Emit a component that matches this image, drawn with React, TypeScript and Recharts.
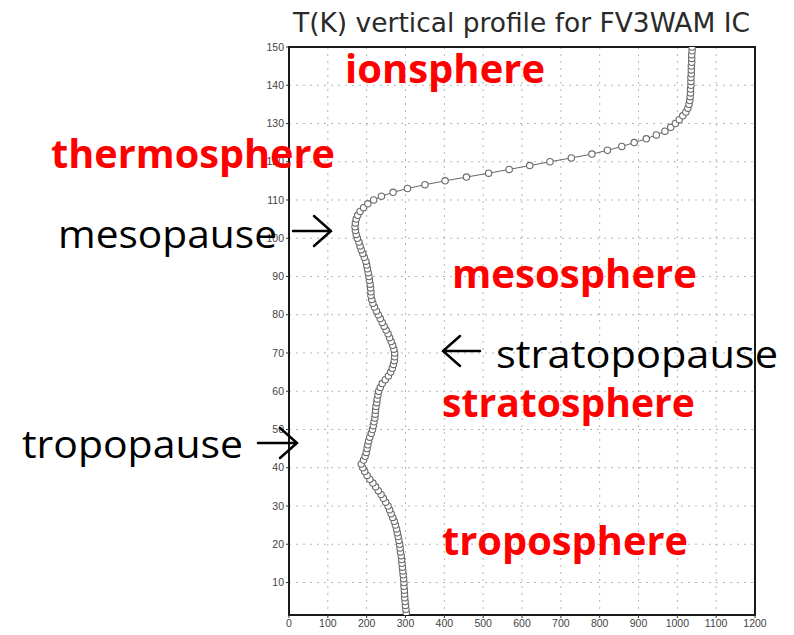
import { ScatterChart, Scatter, XAxis, YAxis, CartesianGrid, ReferenceArea } from 'recharts';

// model levels (km) and temperature (K)
const heightKm = [
  2, 3, 4, 5, 6, 7, 8, 9, 10, 11, 12, 13, 14, 15, 16, 17, 18, 19, 20,
  21, 22, 23, 24, 25, 26, 27, 28, 29, 30, 31, 32, 33, 34, 35, 36, 37, 38, 39, 40,
  41, 42, 43, 44, 45, 46, 47, 48, 49, 50, 51, 52, 53, 54, 55, 56, 57, 58, 59, 60,
  61, 62, 63, 64, 65, 66, 67, 68, 69, 70, 71, 72, 73, 74, 75, 76, 77, 78, 79, 80,
  81, 82, 83, 84, 85, 86, 87, 88, 89, 90, 91, 92, 93, 94, 95, 96, 97, 98, 99, 100,
  101, 102, 103, 104, 105, 106, 107, 108, 109, 110, 111, 112, 113, 114, 115, 116, 117, 118, 119, 120,
  121, 122, 123, 124, 125, 126, 127, 128, 129, 130, 131, 132, 133, 134, 135, 136, 137, 138, 139, 140,
  141, 142, 143, 144, 145, 146, 147, 148, 149, 150,
];
const tempK = [
  302, 301, 300, 299, 298, 297.5, 297, 296, 296, 295, 294, 293, 292, 291, 290, 289, 287, 286, 285,
  283, 281, 279, 277, 274, 271, 267, 263, 259, 255, 249, 243, 237, 230, 223, 216, 208, 201, 195, 190,
  186, 192, 196, 199, 201, 203, 205, 208, 212, 215, 217, 219, 221, 222, 223, 224, 226, 227, 229, 231,
  235, 240, 248, 256, 262, 266, 269, 271, 272, 272, 270, 267, 263, 259, 255, 250, 245, 240, 235, 230,
  225, 220, 216, 213, 211, 211, 210, 209, 207, 206, 204, 202, 200, 198, 194, 190, 186, 183, 180, 176,
  173, 171, 170, 171, 173, 177, 183, 192, 203, 218, 238, 268, 305, 350, 402, 457, 514, 567, 620, 672,
  727, 780, 820, 857, 889, 920, 946, 968, 983, 995, 1005, 1014, 1022, 1027, 1030, 1032, 1033, 1034, 1034, 1035,
  1035, 1035, 1036, 1036, 1036, 1037, 1037, 1037, 1038, 1038,
];
const xTicks = [0, 100, 200, 300, 400, 500, 600, 700, 800, 900, 1000, 1100, 1200];
const yTicks = [10, 20, 30, 40, 50, 60, 70, 80, 90, 100, 110, 120, 130, 140, 150];

const title = 'T(K) vertical profile for FV3WAM IC';
const layerLabels = [
  { text: 'ionsphere', x: 345, y: 83, len: 200 },
  { text: 'thermosphere', x: 51, y: 168, len: 284 },
  { text: 'mesosphere', x: 452, y: 288, len: 245 },
  { text: 'stratosphere', x: 442, y: 417, len: 253 },
  { text: 'troposphere', x: 442, y: 555, len: 246 },
];
const pauseLabels = [
  { text: 'mesopause', x: 58, y: 248, len: 219 },
  { text: 'stratopopause', x: 496, y: 368, len: 282 },
  { text: 'tropopause', x: 22, y: 458, len: 221 },
];

const data = heightKm.map((h, i) => ({ h, t: tempK[i] }));

const Ring = (props: any) => {
  const { cx, cy } = props;
  if (cx == null || cy == null) return null;
  return <circle cx={cx} cy={cy} r={3.2} fill="#fff" stroke="#6a6a6a" strokeWidth={1.1} />;
};

const tickStyle = { fontSize: 10.5, fill: '#444', fontFamily: 'Liberation Sans, Arial, sans-serif' };

export default function App() {
  return (
    <div style={{ position: 'absolute', left: 0, top: 0, width: 794, height: 635, background: '#fff' }}>
      <ScatterChart width={794} height={635} margin={{ top: 47, right: 39, bottom: 0, left: 249 }}>
        <CartesianGrid stroke="#b5b5b5" strokeDasharray="2 5" />
        <XAxis
          type="number"
          dataKey="t"
          domain={[0, 1200]}
          ticks={xTicks}
          height={20}
          tickSize={3}
          tick={tickStyle}
          axisLine={false}
          tickLine={{ stroke: '#333' }}
          interval={0}
        />
        <YAxis
          type="number"
          dataKey="h"
          domain={[1.5, 150]}
          ticks={yTicks}
          width={40}
          tickSize={3}
          tick={tickStyle}
          axisLine={false}
          tickLine={{ stroke: '#333' }}
          interval={0}
          allowDataOverflow
        />
        <ReferenceArea x1={0} x2={1200} y1={1.5} y2={150} fill="none" stroke="#1a1a1a" strokeWidth={2} />
        <Scatter
          data={data}
          line={{ stroke: '#666', strokeWidth: 1 }}
          lineJointType="linear"
          shape={Ring}
          isAnimationActive={false}
        />
      </ScatterChart>
      <svg
        width={794}
        height={635}
        style={{ position: 'absolute', left: 0, top: 0, pointerEvents: 'none' }}
      >
        <text x={293} y={32} textLength={457} lengthAdjust="spacingAndGlyphs"
          fontFamily="DejaVu Sans, sans-serif" fontSize={27} fill="#2a2a2a">
          {title}
        </text>
        {layerLabels.map((l) => (
          <text key={l.text} x={l.x} y={l.y} textLength={l.len} lengthAdjust="spacingAndGlyphs"
            fontFamily="Open Sans, sans-serif" fontWeight={700} fontSize={39} fill="#ff0000">
            {l.text}
          </text>
        ))}
        {pauseLabels.map((l) => (
          <text key={l.text} x={l.x} y={l.y} textLength={l.len} lengthAdjust="spacingAndGlyphs"
            fontFamily="Open Sans, sans-serif" fontSize={39} fill="#000">
            {l.text}
          </text>
        ))}
        {/* arrows */}
        <g stroke="#000" strokeWidth={2.5} fill="none" strokeLinecap="round">
          <path d="M293 231 L331 231 M314 216 L331 231 L314 246" />
          <path d="M258 443 L297 443 M280 428 L297 443 L280 458" />
          <path d="M480 351 L443 351 M460 336 L443 351 L460 366" />
        </g>
      </svg>
    </div>
  );
}
